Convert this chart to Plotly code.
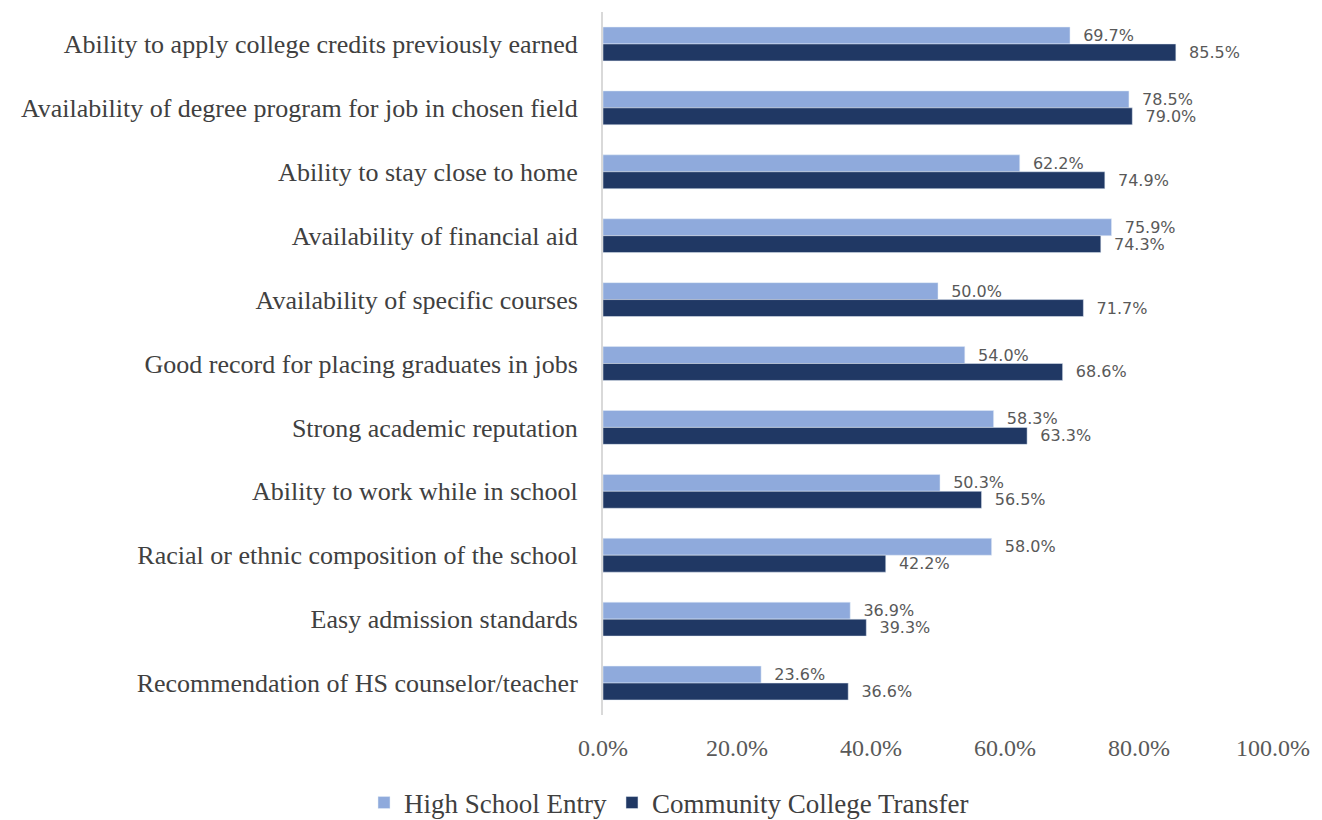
import plotly.graph_objects as go

categories = [
    "Ability to apply college credits previously earned",
    "Availability of degree program for job in chosen field",
    "Ability to stay close to home",
    "Availability of financial aid",
    "Availability of specific courses",
    "Good record for placing graduates in jobs",
    "Strong academic reputation",
    "Ability to work while in school",
    "Racial or ethnic composition of the school",
    "Easy admission standards",
    "Recommendation of HS counselor/teacher",
]
hs_entry = [69.7, 78.5, 62.2, 75.9, 50.0, 54.0, 58.3, 50.3, 58.0, 36.9, 23.6]
cc_transfer = [85.5, 79.0, 74.9, 74.3, 71.7, 68.6, 63.3, 56.5, 42.2, 39.3, 36.6]
x_ticks = [0, 20, 40, 60, 80, 100]

serif = "Liberation Serif, Times New Roman, serif"
sans = "DejaVu Sans, Verdana, sans-serif"

fig = go.Figure()
fig.add_trace(go.Bar(
    y=categories, x=hs_entry, orientation="h", name="High School Entry",
    marker=dict(color="#8faadc"),
    text=[f"  {v:.1f}%" for v in hs_entry], textposition="outside",
    constraintext="none",
    textfont=dict(family=sans, size=16, color="#595959"), cliponaxis=False,
))
fig.add_trace(go.Bar(
    y=categories, x=cc_transfer, orientation="h", name="Community College Transfer",
    marker=dict(color="#203864"),
    text=[f"  {v:.1f}%" for v in cc_transfer], textposition="outside",
    constraintext="none",
    textfont=dict(family=sans, size=16, color="#595959"), cliponaxis=False,
))

fig.update_layout(
    width=1322, height=820,
    paper_bgcolor="white", plot_bgcolor="white",
    barmode="group", bargap=0.47, bargroupgap=0,
    margin=dict(l=595, r=57, t=4, b=113, autoexpand=False),
    font=dict(family=serif, color="#404040"),
    xaxis=dict(
        range=[0, 100], tickvals=x_ticks,
        ticktext=[f"{v:.1f}%" for v in x_ticks],
        showgrid=False, zeroline=False, showline=False,
        tickfont=dict(family=serif, size=24, color="#595959"),
        ticks="outside", ticklen=11, tickcolor="rgba(0,0,0,0)",
    ),
    yaxis=dict(
        autorange="reversed", showgrid=False, zeroline=False,
        showline=True, linecolor="#d9d9d9", linewidth=2,
        tickfont=dict(family=serif, size=26, color="#404040"),
        ticks="outside", ticklen=18, tickcolor="rgba(0,0,0,0)",
    ),
    legend=dict(
        orientation="h", xref="container", yref="container",
        x=0.5, xanchor="center", y=0.0305, yanchor="middle",
        font=dict(family=serif, size=27, color="#404040"),
        itemwidth=30,
    ),
    showlegend=True,
)

fig.write_html("out.html")
